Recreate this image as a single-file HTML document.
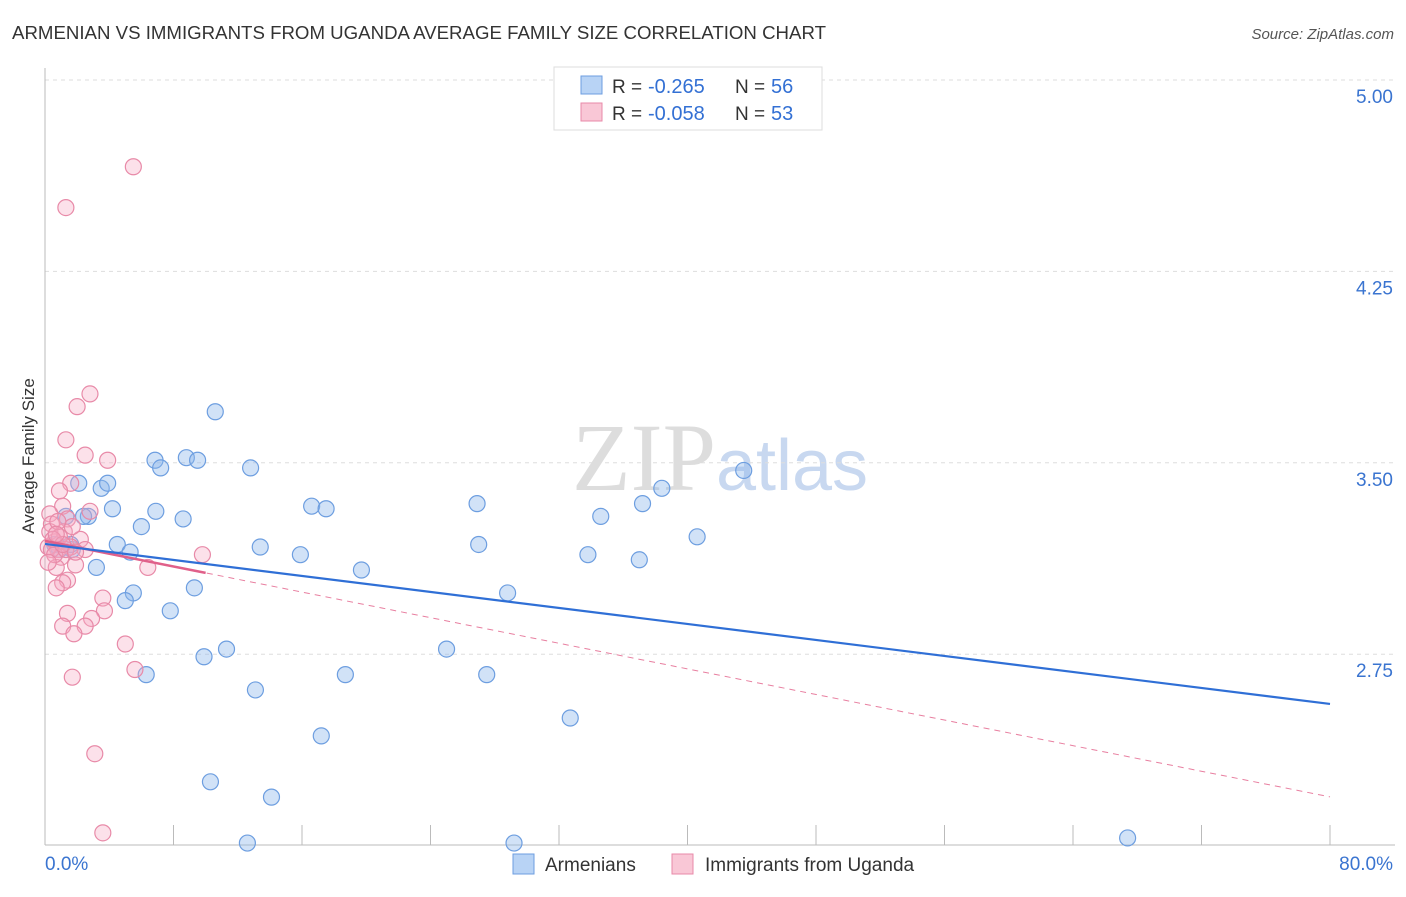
<!DOCTYPE html>
<html><head><meta charset="utf-8"><style>
body{margin:0;background:#fff;font-family:"Liberation Sans",sans-serif}
</style></head><body>
<svg id="chart" width="1406" height="892" xmlns="http://www.w3.org/2000/svg" font-family="Liberation Sans, sans-serif">
<text x="12" y="39" font-size="18" fill="#333" textLength="814" lengthAdjust="spacingAndGlyphs">ARMENIAN VS IMMIGRANTS FROM UGANDA AVERAGE FAMILY SIZE CORRELATION CHART</text>
<text x="1394" y="39" font-size="15" fill="#555" text-anchor="end" font-style="italic">Source: ZipAtlas.com</text>
<text x="720" y="490" font-size="96" text-anchor="middle" fill="#ddd" font-family="Liberation Serif, serif">ZIP<tspan fill="#c8d8f0" font-family="Liberation Sans, sans-serif" font-size="72">atlas</tspan></text>
<g id="grid"></g>
<g id="axes"></g>
<g id="marks"></g>
<text transform="translate(34,456) rotate(-90)" font-size="17" fill="#333" text-anchor="middle">Average Family Size</text>
<g>
<rect x="554" y="67" width="268" height="63" fill="#fff" stroke="#ddd"/>
<rect x="581" y="76" width="21" height="18" fill="#b8d3f5" stroke="#6d9ee0"/>
<rect x="581" y="103" width="21" height="18" fill="#f9c7d6" stroke="#e88aa8"/>
<text x="612" y="93" font-size="19" fill="#333">R =</text>
<text x="648" y="93" font-size="20" fill="#3370d4">-0.265</text>
<text x="735" y="93" font-size="19" fill="#333">N =</text>
<text x="771" y="93" font-size="20" fill="#3370d4">56</text>
<text x="612" y="120" font-size="19" fill="#333">R =</text>
<text x="648" y="120" font-size="20" fill="#3370d4">-0.058</text>
<text x="735" y="120" font-size="19" fill="#333">N =</text>
<text x="771" y="120" font-size="20" fill="#3370d4">53</text>
</g>
<g>
<rect x="513" y="854" width="21" height="20" fill="#b8d3f5" stroke="#6d9ee0"/>
<text x="545" y="871" font-size="19" fill="#333">Armenians</text>
<rect x="672" y="854" width="21" height="20" fill="#f9c7d6" stroke="#e88aa8"/>
<text x="705" y="871" font-size="19" fill="#333">Immigrants from Uganda</text>
</g>
</svg>
<script>
const yTicks=[2.75,3.50,4.25,5.00];
const xTickLabels=["0.0%","80.0%"];
const blueX=[10.6,6.85,7.2,8.8,9.5,12.8,2.1,3.5,3.9,4.2,2.7,2.4,1.3,6.9,8.6,6.0,4.5,5.3,1.7,3.2,5.5,5.0,7.8,9.3,13.4,15.9,16.6,17.5,19.7,26.9,27.0,28.8,34.6,37.2,38.4,43.5,40.6,33.8,37.0,25.0,27.5,18.7,9.9,11.3,6.3,13.1,17.2,32.7,10.3,14.1,12.6,29.2,67.4,0.9,0.6,1.6];
const blueY=[3.70,3.51,3.48,3.52,3.51,3.48,3.42,3.40,3.42,3.32,3.29,3.29,3.29,3.31,3.28,3.25,3.18,3.15,3.16,3.09,2.99,2.96,2.92,3.01,3.17,3.14,3.33,3.32,3.08,3.34,3.18,2.99,3.29,3.34,3.40,3.47,3.21,3.14,3.12,2.77,2.67,2.67,2.74,2.77,2.67,2.61,2.43,2.50,2.25,2.19,2.01,2.01,2.03,3.16,3.18,3.18];
const pinkX=[5.5,1.3,2.8,2.0,1.3,2.5,3.9,1.6,0.9,1.1,2.8,1.4,0.3,1.2,0.4,2.2,0.6,0.8,1.6,0.2,1.0,1.9,0.7,1.4,1.1,0.7,6.4,9.8,1.4,3.6,3.7,1.1,2.9,2.5,1.8,5.0,5.6,1.7,3.1,3.6,0.3,0.4,0.6,0.9,1.7,0.8,0.2,1.3,0.5,2.5,1.1,0.7,1.9];
const pinkY=[4.66,4.50,3.77,3.72,3.59,3.53,3.51,3.42,3.39,3.33,3.31,3.28,3.30,3.23,3.26,3.20,3.19,3.16,3.17,3.17,3.13,3.10,3.09,3.04,3.03,3.01,3.09,3.14,2.91,2.97,2.92,2.86,2.89,2.86,2.83,2.79,2.69,2.66,2.36,2.05,3.23,3.16,3.14,3.21,3.25,3.27,3.11,3.16,3.20,3.16,3.18,3.22,3.15];
const blueTrend=[3.182,2.555];
const pinkTrend=[3.194,2.191];
const NS="http://www.w3.org/2000/svg";
const X0=45,X1=1330,YT=80,YB=845;
const xs=v=>X0+v/80*(X1-X0);
const ys=v=>YT+(5-v)/0.75*191.4;
function mk(tag,attrs,parent){const e=document.createElementNS(NS,tag);for(const k in attrs)e.setAttribute(k,attrs[k]);parent.appendChild(e);return e;}
const grid=document.getElementById('grid'),axes=document.getElementById('axes'),marks=document.getElementById('marks');
yTicks.forEach(t=>{
 const l=mk('line',{x1:X0,x2:1395,y1:ys(t),y2:ys(t),stroke:'#ddd','stroke-dasharray':'4,4'},grid);
 
 
 const tx=mk('text',{x:1393,y:ys(t)+23,'font-size':19,fill:'#3a74d0','text-anchor':'end'},axes);
 tx.textContent=t.toFixed(2);
 
 
});
const ax=mk('line',{x1:X0,x2:1395,y1:YB,y2:YB,stroke:'#bbb'},axes);


const ay=mk('line',{x1:X0,x2:X0,y1:68,y2:YB,stroke:'#bbb'},axes);


for(let i=0;i<=10;i++){
 const t=mk('line',{x1:xs(i*8),x2:xs(i*8),y1:YB,y2:YB-20,stroke:'#bbb'},axes);
 
 
}
[[0,'start',45],[80,'end',1393]].forEach((d,i)=>{
 const tx=mk('text',{x:d[2],y:870,'font-size':19,fill:'#3a74d0','text-anchor':d[1]},axes);
 tx.textContent=xTickLabels[i];
 
 
});
blueX.forEach((v,i)=>{
 const c=mk('circle',{cx:xs(v),cy:ys(blueY[i]),r:8,fill:'rgba(140,182,235,0.4)',stroke:'#6d9ee0','stroke-width':1.2},marks);
 
 
});
pinkX.forEach((v,i)=>{
 const c=mk('circle',{cx:xs(v),cy:ys(pinkY[i]),r:8,fill:'rgba(246,170,195,0.35)',stroke:'#e88aa8','stroke-width':1.2},marks);
 
 
});
const pd=mk('line',{x1:xs(0),y1:ys(pinkTrend[0]),x2:xs(80),y2:ys(pinkTrend[1]),stroke:'#e87fa0','stroke-width':1,'stroke-dasharray':'6,5'},marks);


const ps=mk('line',{x1:xs(0),y1:ys(pinkTrend[0]),x2:xs(10),y2:ys(pinkTrend[0]+(pinkTrend[1]-pinkTrend[0])*10/80),stroke:'#e0608a','stroke-width':2.5},marks);


const bl=mk('line',{x1:xs(0),y1:ys(blueTrend[0]),x2:xs(80),y2:ys(blueTrend[1]),stroke:'#2f6fd6','stroke-width':2.2},marks);


</script>
</body></html>
